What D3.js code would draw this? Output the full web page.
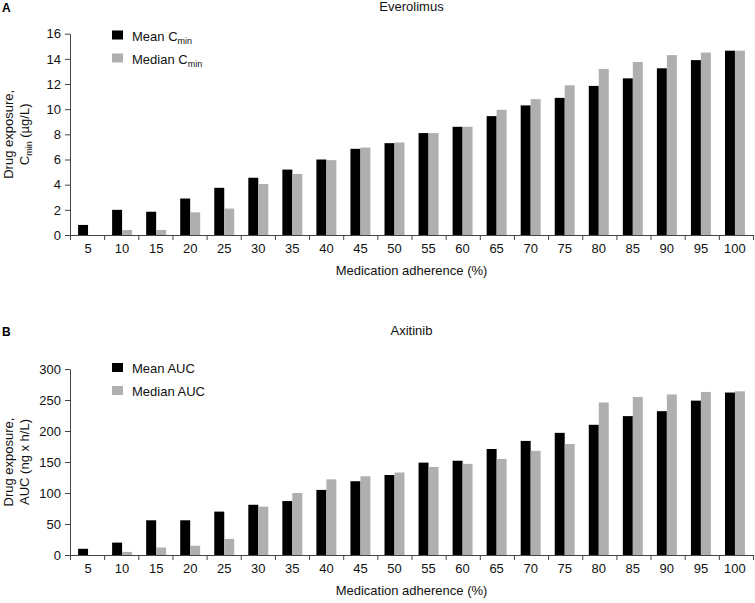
<!DOCTYPE html>
<html>
<head>
<meta charset="utf-8">
<script src="https://cdn.jsdelivr.net/npm/d3@7"></script>
<style>
  html, body { margin: 0; padding: 0; background: #fff; }
  svg { display: block; font-family: "Liberation Sans", Arial, Helvetica, sans-serif; }
</style>
</head>
<body>
<svg id="chart" width="755" height="603"></svg>
<script>
// ---------- data ----------
const categories = [5, 10, 15, 20, 25, 30, 35, 40, 45, 50, 55, 60, 65, 70, 75, 80, 85, 90, 95, 100];

const everolimusMean   = [0.8, 2.0, 1.85, 2.9, 3.75, 4.55, 5.2, 6.0, 6.85, 7.3, 8.1, 8.6, 9.45, 10.3, 10.9, 11.85, 12.45, 13.25, 13.9, 14.65];
const everolimusMedian = [0, 0.4, 0.4, 1.8, 2.1, 4.05, 4.85, 5.95, 6.95, 7.35, 8.1, 8.6, 9.95, 10.8, 11.9, 13.2, 13.75, 14.3, 14.5, 14.65];

const axitinibMean   = [10, 20, 56, 56, 70, 81, 87, 105, 119, 129, 149, 152, 171, 184, 197, 210, 224, 232, 249, 262];
const axitinibMedian = [0, 5, 12, 15, 26, 78, 100, 122, 127, 133, 142, 147, 155, 168, 179, 246, 255, 259, 263, 264];

const everolimusTicks = [0, 2, 4, 6, 8, 10, 12, 14, 16];
const axitinibTicks = [0, 50, 100, 150, 200, 250, 300];

const seriesKeys = ["mean", "median"];
const colors = { mean: "#000000", median: "#afafaf" };

// ---------- drawing ----------
const svg = d3.select("#chart");
const axisColor = "#444";
const X0 = 70, X1 = 753;

function drawPanel(cfg) {
  const g = svg.append("g");
  const x = d3.scaleBand().domain(categories).range([X0, X1]).paddingInner(0.414).paddingOuter(0.237);
  const xs = d3.scaleBand().domain(seriesKeys).range([0, x.bandwidth()]);
  const y = d3.scaleLinear().domain([0, cfg.yMax]).range([cfg.yBottom, cfg.yTop]);

  // bars
  const rows = categories.map((c, i) => ({ c, mean: cfg.mean[i], median: cfg.median[i] }));
  const grp = g.append("g").selectAll("g").data(rows).join("g")
    .attr("transform", d => `translate(${x(d.c)},0)`);
  grp.selectAll("rect").data(d => seriesKeys.map(k => ({ k, v: d[k] }))).join("rect")
    .attr("x", d => xs(d.k))
    .attr("width", xs.bandwidth())
    .attr("y", d => y(d.v))
    .attr("height", d => y(0) - y(d.v))
    .attr("fill", d => colors[d.k]);

  // y axis
  const yAxis = g.append("g").attr("transform", `translate(${X0},0)`)
    .call(d3.axisLeft(y).tickValues(cfg.ticks).tickSize(5).tickPadding(4).tickSizeOuter(0));
  yAxis.select(".domain").attr("stroke", axisColor);
  yAxis.selectAll(".tick line").attr("stroke", axisColor);
  yAxis.selectAll(".tick text").attr("fill", "#111").attr("font-size", 13).attr("font-family", null);

  // x axis: labels centered in bands
  const xLab = g.append("g").attr("transform", `translate(0,${cfg.yBottom})`)
    .call(d3.axisBottom(x).tickSize(0).tickPadding(9));
  xLab.select(".domain").remove();
  xLab.selectAll(".tick text").attr("fill", "#111").attr("font-size", 13).attr("font-family", null);

  // x axis: line with tick marks at band boundaries
  const xb = d3.scaleLinear().domain([0, categories.length]).range([X0, X1]);
  const xTicks = g.append("g").attr("transform", `translate(0,${cfg.yBottom})`)
    .call(d3.axisBottom(xb).ticks(categories.length).tickSize(5).tickSizeOuter(0).tickFormat(""));
  xTicks.select(".domain").attr("stroke", axisColor);
  xTicks.selectAll(".tick line").attr("stroke", axisColor);

  // x axis title
  g.append("text").attr("x", (X0 + X1) / 2).attr("y", cfg.yBottom + 40)
    .attr("text-anchor", "middle").attr("font-size", 13).attr("fill", "#111")
    .text("Medication adherence (%)");

  // panel title
  g.append("text").attr("x", (X0 + X1) / 2).attr("y", cfg.titleY)
    .attr("text-anchor", "middle").attr("font-size", 13).attr("fill", "#111")
    .text(cfg.title);

  // panel letter
  g.append("text").attr("x", 2).attr("y", cfg.titleY + 1)
    .attr("font-size", 12).attr("font-weight", "bold").attr("fill", "#000")
    .text(cfg.letter);

  // y axis title (two lines, rotated)
  const cy = (cfg.yTop + cfg.yBottom) / 2;
  const yt = g.append("text").attr("transform", `translate(13,${cy}) rotate(-90)`)
    .attr("text-anchor", "middle").attr("font-size", 13).attr("fill", "#111");
  yt.append("tspan").attr("x", 0).attr("y", 0).text("Drug exposure,");
  const l2 = g.append("text").attr("transform", `translate(29,${cy}) rotate(-90)`)
    .attr("text-anchor", "middle").attr("font-size", 13).attr("fill", "#111");
  cfg.yLabel2(l2);

  // legend
  const lg = g.append("g");
  cfg.legend.forEach((item, i) => {
    const ly = cfg.legendY + i * 23;
    lg.append("rect").attr("x", 112).attr("y", ly - 10).attr("width", 11).attr("height", 9)
      .attr("fill", colors[item.k]);
    const t = lg.append("text").attr("x", 132).attr("y", ly).attr("font-size", 13).attr("fill", "#111");
    item.render(t);
  });
}

function cMin(t, prefix) {
  t.append("tspan").text(prefix + "C");
  t.append("tspan").attr("font-size", 9).attr("dy", 3).text("min");
}

drawPanel({
  title: "Everolimus", letter: "A", titleY: 11,
  yTop: 33.7, yBottom: 235, yMax: 16, ticks: everolimusTicks,
  mean: everolimusMean, median: everolimusMedian,
  legendY: 40.5,
  yLabel2: t => {
    t.append("tspan").text("C");
    t.append("tspan").attr("font-size", 9).attr("dy", 3).text("min");
    t.append("tspan").attr("dy", -3).text(" (µg/L)");
  },
  legend: [
    { k: "mean", render: t => cMin(t, "Mean ") },
    { k: "median", render: t => cMin(t, "Median ") }
  ]
});

drawPanel({
  title: "Axitinib", letter: "B", titleY: 335,
  yTop: 369, yBottom: 555, yMax: 300, ticks: axitinibTicks,
  mean: axitinibMean, median: axitinibMedian,
  legendY: 373,
  yLabel2: t => t.text("AUC (ng x h/L)"),
  legend: [
    { k: "mean", render: t => t.text("Mean AUC") },
    { k: "median", render: t => t.text("Median AUC") }
  ]
});
</script>
</body>
</html>
